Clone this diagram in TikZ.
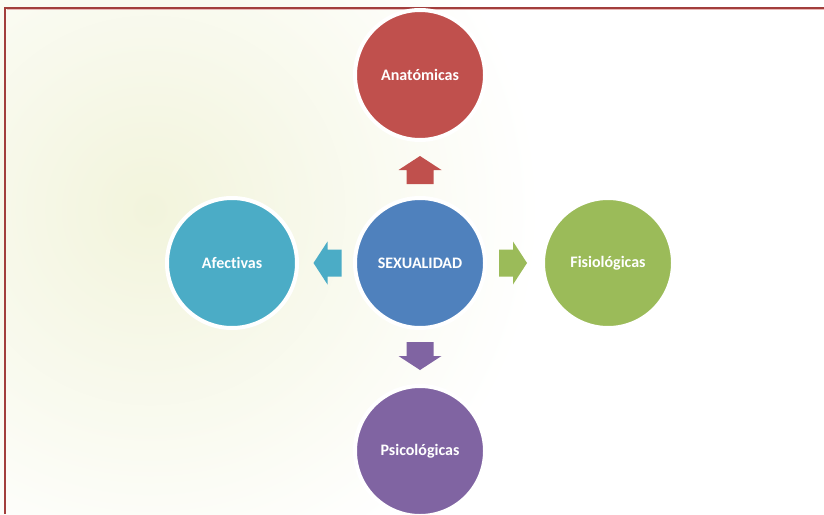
\documentclass[tikz,border=0pt]{standalone}
\usepackage{fontspec}
\setmainfont{Carlito}[Ligatures=NoCommon]
\usetikzlibrary{calc}
\definecolor{cRed}{HTML}{C0504D}
\definecolor{cBlue}{HTML}{4F81BD}
\definecolor{cGreen}{HTML}{9BBB59}
\definecolor{cPurple}{HTML}{8064A2}
\definecolor{cAqua}{HTML}{4BACC6}
\definecolor{frameRed}{HTML}{A23E3C}
\definecolor{framePink}{HTML}{E8B8B6}
\definecolor{bgYellow}{HTML}{F2F4DC}
\tikzset{
  bubble/.style={circle, minimum size=130pt, inner sep=0pt, draw=white, line width=4pt,
    font=\fontsize{16}{18}\selectfont\bfseries, text=white},
  blockarrow/.pic={
    \fill (-14,-13.5) -- (0,-13.5) -- (0,-21.5) -- (14,0) -- (0,21.5) -- (0,13.5) -- (-14,13.5) -- cycle;
  }
}
\begin{document}
\begin{tikzpicture}[x=1pt,y=-1pt]
\useasboundingbox (0,0) rectangle (824,514);
\begin{scope}
  \clip (0,0) rectangle (824,514);
  \shade[inner color=bgYellow, outer color=white] (150,210) circle (390);
\end{scope}
% frame
\draw[framePink, line width=1pt] (7,9.7) -- (824,9.7);
\draw[frameRed, line width=2pt, line join=miter] (5.3,514) -- (5.3,7.7) -- (824,7.7);
% nodes
\node[bubble, fill=cBlue]   (s) at (420,263) {SEXUALIDAD};
\node[bubble, fill=cRed]    (a) at (420,75)  {Anatómicas};
\node[bubble, fill=cGreen]  (f) at (608,263) {Fisiológicas};
\node[bubble, fill=cPurple] (p) at (420,451) {Psicológicas};
\node[bubble, fill=cAqua]   (e) at (232,263) {Afectivas};
% arrows
\pic[fill=cRed, rotate=90]     at ($(s)!93pt!(a)$) {blockarrow};
\pic[fill=cGreen]              at ($(s)!93pt!(f)$) {blockarrow};
\pic[fill=cPurple, rotate=-90] at ($(s)!93pt!(p)$) {blockarrow};
\pic[fill=cAqua, rotate=180]   at ($(s)!92.5pt!(e)$) {blockarrow};
\end{tikzpicture}
\end{document}
